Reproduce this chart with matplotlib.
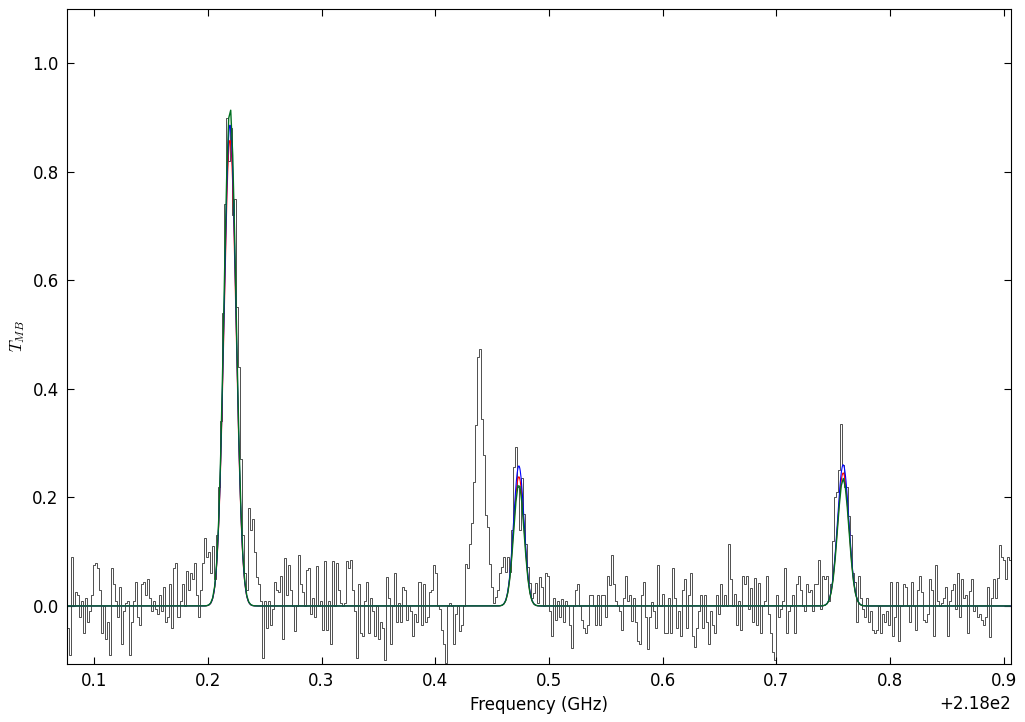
"""
Spectrum with Gaussian line fits (T_MB vs frequency), channel data as steps.
"""
import numpy as np
import matplotlib
matplotlib.use("Agg")
import matplotlib.pyplot as plt

# ── channel grid ─────────────────────────────────────────────────────────────
f_start = 218.0762   # GHz, first channel edge
f_step = 0.001766    # GHz per channel

seg_a = [-0.04, -0.09, 0.09, 0.0, 0.025, 0.02, -0.02, 0.01, -0.05, 0.015,
         -0.03, -0.01, 0.02, 0.075, 0.08, 0.07, 0.03, -0.05, 0.0, -0.06,
         -0.03, -0.09, 0.07, 0.04, 0.01, -0.02, 0.035, -0.07, -0.01, 0.005,
         0.01, -0.09, -0.03, 0.01, 0.045, -0.02, -0.035, 0.04, 0.045, 0.02,
         0.05, 0.015, -0.01, 0.01, -0.005,
         -0.015, 0.02, -0.01, 0.035, -0.03, -0.02, 0.04, -0.04, 0.07, 0.08,
         -0.02, 0.01, 0.04, 0.0, 0.065, 0.03, 0.06, 0.05, 0.08, 0.02,
         -0.02, 0.03, 0.08, 0.125, 0.09, 0.1, 0.06, 0.11, 0.05, 0.13]
seg_peak1 = [0.22, 0.34, 0.54, 0.74, 0.90, 0.82, 0.88, 0.72, 0.75, 0.55,
             0.44, 0.27, 0.13, 0.06, 0.03, 0.18, 0.14, 0.16, 0.10]
seg_c = [0.054, 0.04, 0.01, -0.096, 0.01, -0.04, 0.01, -0.035, -0.005, 0.045,
         0.03, 0.025, 0.055, -0.06, 0.088, 0.02, 0.075, 0.03, 0.0, -0.047,
         0.0, 0.094, 0.04, 0.025, 0.0, 0.066, 0.07, -0.015, 0.015, -0.02,
         0.074, 0.0, 0.01, -0.044, 0.082, -0.044, 0.01, -0.07, 0.082, 0.0,
         0.08, 0.03, 0.005,
         0.0, 0.005, 0.082, 0.07, 0.085, 0.03, -0.01, -0.096, 0.04, -0.05,
         -0.055, 0.01, 0.045, -0.05, 0.015, -0.01, -0.055, 0.0, -0.06, -0.03,
         -0.04, -0.1, 0.054, 0.015, -0.07, 0.0, 0.06, -0.03, 0.005, -0.03,
         0.035, 0.03, -0.025, 0.0, -0.01, -0.056, -0.015, -0.03, 0.045]
seg_d = [-0.035, 0.04, -0.03, -0.02, 0.025, 0.03, 0.075, 0.06, 0.0, -0.005,
         -0.045, -0.07, -0.105, 0.0, 0.005, 0.0, -0.07, -0.015, 0.0, -0.047,
         -0.035, 0.0, 0.078, 0.07, 0.115, 0.152, 0.229, 0.333, 0.459, 0.474,
         0.345, 0.278, 0.168, 0.146, 0.078, 0.035, 0.005, 0.017, 0.03, 0.06]
seg_peak2 = [0.072, 0.09, 0.063, 0.09, 0.063, 0.14, 0.256, 0.293, 0.22, 0.14,
             0.236, 0.17, 0.115, 0.072, 0.042, 0.014, 0.023, 0.042, 0.005, 0.053]
seg_f = [0.035, 0.0, 0.06, 0.055, -0.01, -0.055, 0.015, -0.025, 0.01, -0.02,
         0.013, -0.03, 0.01, 0.0, -0.035, -0.077, 0.0, 0.03, 0.04, 0.0,
         -0.025, -0.04, -0.05, -0.035, 0.02, 0.02, 0.0, -0.035, 0.02, -0.035,
         0.02, 0.02, -0.02, 0.055, 0.038, 0.094, 0.04, 0.01, 0.0, -0.01,
         -0.045, 0.015, 0.055, 0.01, 0.02, -0.028, 0.015,
         -0.03, -0.065, -0.07, 0.02, 0.045, -0.02, -0.08, -0.02, 0.008, -0.01,
         -0.04, 0.075, 0.0, 0.022, -0.05, -0.05, 0.015, -0.05, 0.07, 0.015,
         -0.04, -0.01, -0.055, 0.03, 0.05, -0.04, 0.02, 0.06, -0.055, -0.075,
         -0.04, -0.01, 0.02, -0.04, 0.02, -0.03, -0.07, -0.01, -0.035, -0.05,
         0.02, -0.015, 0.04, 0.0, 0.02, 0.0, 0.115,
         0.05, 0.0, 0.022, -0.035, 0.01, -0.045, 0.055, 0.04, 0.055, -0.005,
         0.033, -0.03, 0.052, -0.035, 0.042, -0.05, 0.0, 0.01, 0.055, -0.015,
         -0.05, -0.085, -0.1, 0.02, -0.02, -0.005, 0.01, 0.07, -0.05, -0.01,
         0.0, 0.02, -0.05, 0.04, 0.055, 0.03, 0.0, -0.01, 0.04, 0.025,
         0.03, -0.01, 0.04, 0.04, 0.085]
seg_peak3 = [-0.005, 0.055, 0.05, 0.055, 0.01, 0.04, 0.12, 0.2, 0.21, 0.25,
             0.335, 0.26, 0.22, 0.22, 0.165, 0.13, 0.06, 0.045,
             -0.03, 0.055, 0.015, -0.005, -0.02, 0.015, -0.03, -0.01, -0.045, -0.05,
             -0.045, 0.0, -0.05, -0.015, -0.03, -0.01, -0.035,
             0.045, -0.055, -0.02, 0.045, -0.065, 0.0, 0.04, 0.035, 0.0, -0.03,
             0.045, 0.0, -0.045, 0.03, 0.055]
seg_h = [0.025, -0.025, -0.03, -0.015, 0.05, 0.03, -0.055, 0.075, 0.01, 0.0,
         0.005, 0.015, 0.035, -0.055, 0.01, 0.03, 0.04, -0.005, 0.06, -0.02,
         0.05, 0.015, 0.02, -0.05, 0.028, 0.05, -0.01, 0.0, -0.02, -0.015,
         -0.025, -0.035, -0.02, 0.035, -0.057, 0.015, 0.05, 0.015, 0.052, 0.113,
         0.09, 0.085, 0.05, 0.09, 0.085]

# ── Gaussian fit parameters for the three lines ─────────────────────────────
line_centers = [218.2195, 218.4735, 218.7587]   # GHz
line_sigmas = [0.0053, 0.0046, 0.0050]          # GHz
amp_red = [0.858, 0.238, 0.245]
amp_blue = [0.886, 0.258, 0.260]
amp_green = [0.920, 0.225, 0.235]

tmb = np.array(seg_a + seg_peak1 + seg_c + seg_d + seg_peak2 + seg_f + seg_peak3 + seg_h)
edges = f_start + f_step * np.arange(len(tmb) + 1)
centers = 0.5 * (edges[:-1] + edges[1:])


def model(freq, amps):
    out = np.zeros_like(freq)
    for a, c, s in zip(amps, line_centers, line_sigmas):
        out += a * np.exp(-0.5 * ((freq - c) / s) ** 2)
    return out


fine = np.linspace(edges[0], edges[-1], 4000)

plt.rcParams.update({
    "font.family": "DejaVu Sans",
    "font.size": 12,
    "mathtext.fontset": "cm",
    "xtick.direction": "in",
    "ytick.direction": "in",
    "xtick.top": True,
    "ytick.right": True,
    "xtick.major.size": 5,
    "ytick.major.size": 5,
    "xtick.major.pad": 6,
    "ytick.major.pad": 6,
})

fig = plt.figure(figsize=(10.25, 7.22), dpi=100)
ax = fig.add_axes([0.0654, 0.0803, 0.9209, 0.9072])

ax.stairs(tmb, edges, color="#202020", lw=0.55)
ax.plot(fine, model(fine, amp_red), color="red", lw=0.8)
ax.plot(fine, model(fine, amp_blue), color="blue", lw=0.8)
ax.plot(centers, model(centers, amp_green), color="#007020", lw=1.0)

ax.set_xlim(edges[0], edges[-1])
ax.set_ylim(-0.107, 1.1)
ax.set_yticks([0.0, 0.2, 0.4, 0.6, 0.8, 1.0])
ax.set_xticks([218.1, 218.2, 218.3, 218.4, 218.5, 218.6, 218.7, 218.8, 218.9])
ax.ticklabel_format(axis="x", useOffset=218.0)
ax.set_xlabel("Frequency (GHz)")
ax.set_ylabel(r"$T_{MB}$")

fig.savefig("out.png", dpi=100)
